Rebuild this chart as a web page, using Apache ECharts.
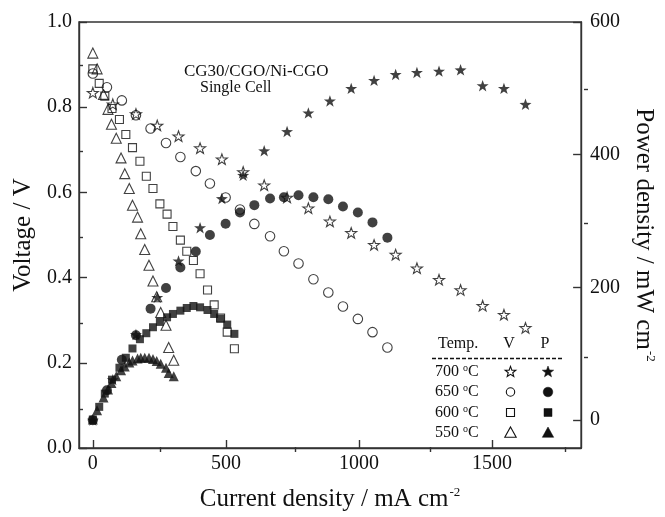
<!DOCTYPE html>
<html>
<head>
<meta charset="utf-8">
<script src="https://cdn.jsdelivr.net/npm/echarts@6/dist/echarts.min.js"></script>
<style>
html,body{margin:0;padding:0;background:#fff;}
#chart{width:665px;height:517px;}
</style>
</head>
<body>
<div id="chart"></div>
<script>
// ---- Data ----
// 700 °C
const current700 = [0, 75, 162, 242, 322, 403, 485, 565, 644, 730, 810, 891, 971, 1057, 1138, 1218, 1301, 1382, 1465, 1545, 1626];
const voltage700 = [0.834, 0.807, 0.784, 0.757, 0.732, 0.704, 0.678, 0.648, 0.617, 0.588, 0.563, 0.532, 0.505, 0.477, 0.454, 0.422, 0.395, 0.371, 0.334, 0.313, 0.282];
const power700   = [0, 61, 129, 185, 240, 290, 334, 369, 406, 435, 463, 481, 500, 512, 521, 524, 526, 528, 504, 500, 476];
// 650 °C
const current650 = [0, 53, 109, 162, 217, 275, 329, 387, 440, 499, 553, 607, 666, 718, 773, 829, 885, 940, 996, 1051, 1107];
const voltage650 = [0.879, 0.847, 0.816, 0.781, 0.750, 0.716, 0.683, 0.650, 0.621, 0.588, 0.560, 0.526, 0.497, 0.462, 0.433, 0.396, 0.365, 0.332, 0.303, 0.272, 0.236];
const power650   = [0, 45, 91, 128, 168, 199, 230, 254, 279, 296, 313, 324, 334, 336, 339, 336, 333, 322, 313, 298, 275];
// 600 °C
const current600 = [0, 24, 45, 72, 100, 124, 149, 177, 201, 226, 252, 279, 301, 329, 353, 378, 403, 431, 456, 480, 505, 532];
const voltage600 = [0.890, 0.856, 0.826, 0.797, 0.771, 0.736, 0.705, 0.673, 0.638, 0.609, 0.573, 0.549, 0.520, 0.488, 0.462, 0.440, 0.409, 0.371, 0.336, 0.305, 0.272, 0.233];
const power600   = [1, 20, 40, 61, 79, 94, 108, 122, 131, 140, 148, 155, 160, 165, 169, 172, 170, 166, 160, 153, 144, 130];
// 550 °C
const current550 = [0, 16, 40, 57, 70, 88, 106, 120, 137, 149, 168, 180, 195, 211, 226, 240, 255, 275, 285, 304];
const voltage550 = [0.927, 0.890, 0.830, 0.795, 0.760, 0.727, 0.681, 0.644, 0.609, 0.570, 0.542, 0.503, 0.466, 0.429, 0.392, 0.355, 0.318, 0.288, 0.236, 0.206];
const power550   = [1, 15, 34, 46, 56, 66, 75, 81, 87, 90, 93, 94, 94, 94, 92, 89, 85, 79, 71, 66];

// Axis tick values
const xMajorTicks = [0, 500, 1000, 1500];
const xMinorTicks = [250, 750, 1250, 1750];
const voltageMinorTicks = [0.1, 0.3, 0.5, 0.7, 0.9];
const powerMajorTicks = [0, 200, 400, 600];
const powerMinorTicks = [100, 300, 500];

// Legend table
const legendTemps = ['700', '650', '600', '550'];

const FONT = '"Liberation Serif", "Times New Roman", "DejaVu Serif", serif';
const INK = '#111';
const AXIS = '#333';

const X_MIN = -52, X_MAX = 1835;
const P_MIN = -42, P_MAX = 600;

const starPath = 'path://M0,-10L2.35,-3.24L9.51,-3.09L3.8,1.24L5.88,8.09L0,4L-5.88,8.09L-3.8,1.24L-9.51,-3.09L-2.35,-3.24Z';

function pairs(xs, ys) { return xs.map((x, i) => [x, ys[i]]); }

function openSeries(name, xs, ys, symbol, size) {
  return {
    name, type: 'scatter', xAxisIndex: 0, yAxisIndex: 0,
    data: pairs(xs, ys), symbol, symbolSize: size, symbolKeepAspect: true,
    itemStyle: { color: 'rgba(255,255,255,0)', borderColor: INK, borderWidth: 1.1 },
    emphasis: { disabled: true }, z: 3
  };
}
function filledSeries(name, xs, ys, symbol, size) {
  return {
    name, type: 'scatter', xAxisIndex: 0, yAxisIndex: 1,
    data: pairs(xs, ys), symbol, symbolSize: size, symbolKeepAspect: true,
    itemStyle: { color: INK, borderWidth: 0 },
    emphasis: { disabled: true }, z: 2
  };
}

const chart = echarts.init(document.getElementById('chart'), null, { renderer: 'canvas' });

const axisLineStyle = { color: AXIS, width: 1.4 };
const labelStyle = { color: INK, fontFamily: FONT, fontSize: 20 };
const nameStyle = {
  color: INK, fontFamily: FONT, fontSize: 25, lineHeight: 26,
  rich: {
    a: { fontFamily: FONT, fontSize: 25, color: INK, lineHeight: 26 },
    s: { fontFamily: FONT, fontSize: 13, color: INK, verticalAlign: 'top', lineHeight: 26, padding: [0, 0, 12, 1] }
  }
};

// legend graphics
const lg = [];
const colV = 510.5, colP = 548;
const LFONT = '16px ' + FONT;
lg.push({ type: 'text', x: 438, y: 344, style: { text: 'Temp.', font: LFONT, fill: INK, verticalAlign: 'middle' } });
lg.push({ type: 'text', x: 509, y: 344, style: { text: 'V', font: LFONT, fill: INK, align: 'center', verticalAlign: 'middle' } });
lg.push({ type: 'text', x: 545, y: 344, style: { text: 'P', font: LFONT, fill: INK, align: 'center', verticalAlign: 'middle' } });
lg.push({ type: 'line', shape: { x1: 432, y1: 358.5, x2: 563, y2: 358.5 }, style: { stroke: INK, lineWidth: 1.4, lineDash: [4, 2] } });
const rowY = [372, 392, 412.5, 432.5];
function starPts(cx, cy, r) {
  const pts = [];
  for (let k = 0; k < 10; k++) {
    const rr = k % 2 === 0 ? r : r * 0.42;
    const a = -Math.PI / 2 + k * Math.PI / 5;
    pts.push([cx + rr * Math.cos(a), cy + rr * Math.sin(a)]);
  }
  return pts;
}
function triPts(cx, cy, r) {
  return [[cx, cy - r], [cx + r * 0.95, cy + r * 0.72], [cx - r * 0.95, cy + r * 0.72]];
}
legendTemps.forEach((t, i) => {
  const y = rowY[i];
  lg.push({ type: 'text', x: 435, y: y, style: {
    text: t + ' {s|o}C', font: LFONT, fill: INK, verticalAlign: 'middle',
    rich: { s: { font: '10px ' + FONT, fill: INK, verticalAlign: 'top', padding: [0, 0, 7, 0] } }
  } });
  const openStyle = { fill: 'none', stroke: INK, lineWidth: 1.1 };
  const fillStyle = { fill: INK, stroke: INK, lineWidth: 0.5 };
  if (i === 0) {
    lg.push({ type: 'polygon', shape: { points: starPts(colV, y, 5.6) }, style: openStyle });
    lg.push({ type: 'polygon', shape: { points: starPts(colP, y, 6) }, style: fillStyle });
  } else if (i === 1) {
    lg.push({ type: 'circle', shape: { cx: colV, cy: y, r: 4.2 }, style: openStyle });
    lg.push({ type: 'circle', shape: { cx: colP, cy: y, r: 4.8 }, style: fillStyle });
  } else if (i === 2) {
    lg.push({ type: 'rect', shape: { x: colV - 4, y: y - 4, width: 8, height: 8 }, style: openStyle });
    lg.push({ type: 'rect', shape: { x: colP - 4, y: y - 4, width: 8, height: 8 }, style: fillStyle });
  } else {
    lg.push({ type: 'polygon', shape: { points: triPts(colV, y + 0.5, 6) }, style: openStyle });
    lg.push({ type: 'polygon', shape: { points: triPts(colP, y + 0.5, 6) }, style: fillStyle });
  }
});
lg.push({ type: 'text', x: 184, y: 72, style: { text: 'CG30/CGO/Ni-CGO', font: '17px ' + FONT, fill: INK, verticalAlign: 'middle' } });
lg.push({ type: 'text', x: 200, y: 88, style: { text: 'Single Cell', font: '16px ' + FONT, fill: INK, verticalAlign: 'middle' } });

const gridBox = { left: 79, right: 77, top: 22, bottom: 65 };

const option = {
  animation: false,
  backgroundColor: '#fff',
  grid: [
    { ...gridBox, show: true, borderColor: AXIS, borderWidth: 1.4, backgroundColor: 'transparent' },
    { ...gridBox, show: false }
  ],
  xAxis: [
    {
      type: 'value', gridIndex: 0, min: X_MIN, max: X_MAX, position: 'bottom',
      name: '{a|Current density / mA cm}{s|-2}', nameLocation: 'middle', nameGap: 38, nameTextStyle: nameStyle,
      axisLine: { show: true, onZero: false, lineStyle: axisLineStyle },
      axisTick: { show: true, inside: true, length: 8, customValues: xMajorTicks, lineStyle: axisLineStyle },
      axisLabel: { show: true, customValues: xMajorTicks, margin: 6, formatter: v => String(v), ...labelStyle },
      splitLine: { show: false }
    },
    {
      type: 'value', gridIndex: 1, min: X_MIN, max: X_MAX, position: 'bottom',
      axisLine: { show: false, onZero: false },
      axisTick: { show: true, inside: true, length: 5, customValues: xMinorTicks, lineStyle: axisLineStyle },
      axisLabel: { show: false },
      splitLine: { show: false }
    }
  ],
  yAxis: [
    {
      type: 'value', gridIndex: 0, min: 0, max: 1, interval: 0.2, position: 'left',
      name: 'Voltage / V', nameLocation: 'middle', nameGap: 38, nameTextStyle: nameStyle,
      axisLine: { show: true, onZero: false, lineStyle: axisLineStyle },
      axisTick: { show: true, inside: true, length: 8, lineStyle: axisLineStyle },
      axisLabel: { margin: 7, formatter: v => v.toFixed(1), ...labelStyle },
      splitLine: { show: false }
    },
    {
      type: 'value', gridIndex: 0, min: P_MIN, max: P_MAX, position: 'right',
      name: '{a|Power density / mW cm}{s|-2}', nameLocation: 'middle', nameRotate: -90, nameGap: 47, nameTextStyle: nameStyle,
      axisLine: { show: true, onZero: false, lineStyle: axisLineStyle },
      axisTick: { show: true, inside: true, length: 8, customValues: powerMajorTicks, lineStyle: axisLineStyle },
      axisLabel: { show: true, customValues: powerMajorTicks, margin: 9, ...labelStyle },
      splitLine: { show: false }
    },
    {
      type: 'value', gridIndex: 1, min: 0, max: 1, position: 'left',
      axisLine: { show: false, onZero: false },
      axisTick: { show: true, inside: true, length: 4, customValues: voltageMinorTicks, lineStyle: axisLineStyle },
      axisLabel: { show: false },
      splitLine: { show: false }
    },
    {
      type: 'value', gridIndex: 1, min: P_MIN, max: P_MAX, position: 'right',
      axisLine: { show: false, onZero: false },
      axisTick: { show: true, inside: true, length: 4, customValues: powerMinorTicks, lineStyle: axisLineStyle },
      axisLabel: { show: false },
      splitLine: { show: false }
    }
  ],
  series: [
    openSeries('700 V', current700, voltage700, starPath, 11),
    openSeries('650 V', current650, voltage650, 'circle', 9.5),
    openSeries('600 V', current600, voltage600, 'rect', 8),
    openSeries('550 V', current550, voltage550, 'triangle', 10),
    filledSeries('700 P', current700, power700, starPath, 12),
    filledSeries('650 P', current650, power650, 'circle', 10),
    filledSeries('600 P', current600, power600, 'rect', 8),
    filledSeries('550 P', current550, power550, 'triangle', 10)
  ],
  graphic: lg
};
chart.setOption(option);
</script>
</body>
</html>
